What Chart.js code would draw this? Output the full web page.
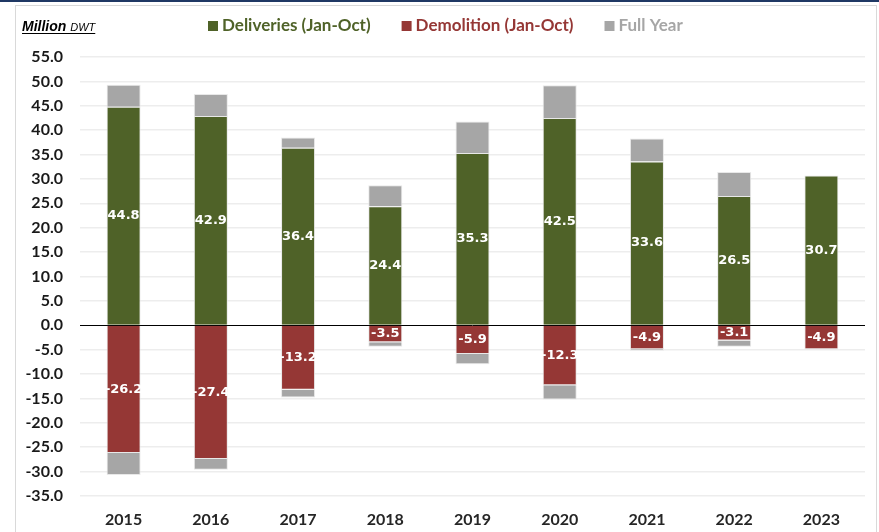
<!DOCTYPE html>
<html>
<head>
<meta charset="utf-8">
<script src="https://cdn.jsdelivr.net/npm/chart.js@4/dist/chart.umd.min.js"></script>
<style>
  html, body { margin: 0; padding: 0; background: #ffffff; }
  #wrap { position: relative; width: 879px; height: 532px; }
</style>
</head>
<body>
<div id="wrap"><canvas id="c" width="879" height="532"></canvas></div>
<script>
// ---- Data ----
const years = ['2015', '2016', '2017', '2018', '2019', '2020', '2021', '2022', '2023'];
const deliveriesJanOct = [44.8, 42.9, 36.4, 24.4, 35.3, 42.5, 33.6, 26.5, 30.7];
const demolitionJanOct = [-26.2, -27.4, -13.2, -3.5, -5.9, -12.3, -4.9, -3.1, -4.9];
const deliveriesFullYear = [49.3, 47.4, 38.5, 28.7, 41.8, 49.2, 38.3, 31.4, null];
const demolitionFullYear = [-30.7, -29.6, -14.8, -4.4, -8.0, -15.2, -5.2, -4.4, null];
const yTicks = [55, 50, 45, 40, 35, 30, 25, 20, 15, 10, 5, 0, -5, -10, -15, -20, -25, -30, -35];
const unitLabel = 'Million';
const unitSub = 'DWT';

const GREEN = '#4F6228';
const RED = '#953735';
const GRAY = '#A6A6A6';

// Remainder of the full year beyond the Jan-Oct part (stacked segment)
const delivRest = deliveriesFullYear.map((v, i) => v == null ? null : +(v - deliveriesJanOct[i]).toFixed(1));
const demoRest = demolitionFullYear.map((v, i) => v == null ? null : +(v - demolitionJanOct[i]).toFixed(1));

const frame = {
  id: 'frame',
  beforeDraw(chart) {
    const ctx = chart.ctx;
    ctx.save();
    ctx.fillStyle = '#ffffff';
    ctx.fillRect(0, 0, chart.width, chart.height);
    ctx.fillStyle = '#1F3864';
    ctx.fillRect(0, 0, chart.width, 2);
    ctx.strokeStyle = '#D9D9D9';
    ctx.lineWidth = 1;
    ctx.strokeRect(15.5, 5.5, 861, 540);
    ctx.restore();
  }
};

const legendAndUnit = {
  id: 'legendAndUnit',
  afterDraw(chart) {
    const ctx = chart.ctx;
    ctx.save();
    // unit label
    ctx.textBaseline = 'alphabetic';
    ctx.fillStyle = '#000000';
    ctx.font = 'italic bold 14px "Liberation Sans", Arial, sans-serif';
    const x0 = 22, yb = 31;
    ctx.fillText(unitLabel, x0, yb);
    let w = ctx.measureText(unitLabel + ' ').width;
    ctx.font = 'italic 11px "Liberation Sans", Arial, sans-serif';
    ctx.fillText(unitSub, x0 + w, yb);
    w += ctx.measureText(unitSub).width;
    ctx.fillRect(x0, yb + 2, w, 1);

    // legend
    const ds = chart.data.datasets;
    const items = [
      { text: ds[0].label, color: ds[0].backgroundColor },
      { text: ds[2].label, color: ds[2].backgroundColor },
      { text: ds[1].label, color: ds[1].backgroundColor }
    ];
    ctx.font = 'bold 17px Lato, "Liberation Sans", sans-serif';
    ctx.textBaseline = 'middle';
    let x = 208;
    const yc = 26;
    items.forEach(it => {
      ctx.fillStyle = it.color;
      ctx.fillRect(x, yc - 5, 10, 10);
      x += 14;
      ctx.fillText(it.text, x, yc);
      x += ctx.measureText(it.text).width + 31;
    });
    ctx.restore();
  }
};

const valueLabels = {
  id: 'valueLabels',
  afterDatasetsDraw(chart) {
    const ctx = chart.ctx;
    ctx.save();
    ctx.font = 'bold 13px "DejaVu Sans", sans-serif';
    ctx.fillStyle = '#ffffff';
    ctx.textAlign = 'center';
    ctx.textBaseline = 'middle';
    [0, 2].forEach(di => {
      const meta = chart.getDatasetMeta(di);
      const data = chart.data.datasets[di].data;
      meta.data.forEach((bar, i) => {
        const v = data[i];
        if (v == null) return;
        const p = bar.getCenterPoint();
        ctx.fillText(v.toFixed(1), p.x, p.y);
      });
    });
    ctx.restore();
  }
};

const barCommon = { borderColor: 'rgba(230,230,230,0.9)', borderWidth: 1, stack: 's', barPercentage: 0.39, categoryPercentage: 1.0 };

new Chart(document.getElementById('c'), {
  type: 'bar',
  data: {
    labels: years,
    datasets: [
      Object.assign({ label: 'Deliveries (Jan-Oct)', data: deliveriesJanOct, backgroundColor: GREEN }, barCommon),
      Object.assign({ label: 'Full Year', data: delivRest, backgroundColor: GRAY }, barCommon),
      Object.assign({ label: 'Demolition (Jan-Oct)', data: demolitionJanOct, backgroundColor: RED }, barCommon),
      Object.assign({ label: 'Full Year', data: demoRest, backgroundColor: GRAY }, barCommon)
    ]
  },
  options: {
    responsive: false,
    animation: false,
    layout: { padding: { top: 57, right: 14, bottom: 4, left: 0 } },
    plugins: {
      legend: { display: false },
      tooltip: { enabled: false }
    },
    scales: {
      x: {
        stacked: true,
        afterFit(scale) { scale.height = 32; },
        grid: { display: false, drawTicks: false },
        border: { display: false },
        ticks: { color: '#262626', font: { family: 'Lato, "Liberation Sans", sans-serif', size: 16, weight: 'bold' }, padding: 14 }
      },
      y: {
        stacked: true,
        min: -35,
        max: 55,
        afterFit(scale) { scale.width = 80; },
        afterBuildTicks(scale) { scale.ticks = yTicks.map(v => ({ value: v })); },
        border: { display: false },
        grid: {
          drawTicks: false,
          color: ctx => ctx.tick && ctx.tick.value === 0 ? '#000000' : '#EDEDED',
          lineWidth: ctx => ctx.tick && ctx.tick.value === 0 ? 1 : 1.5,
          z: 0
        },
        ticks: {
          color: '#1a1a1a',
          padding: 17,
          font: { family: 'Lato, "Liberation Sans", sans-serif', size: 16, weight: 'bold' },
          callback: v => Number(v).toFixed(1)
        }
      }
    }
  },
  plugins: [frame, legendAndUnit, valueLabels]
});
</script>
</body>
</html>
